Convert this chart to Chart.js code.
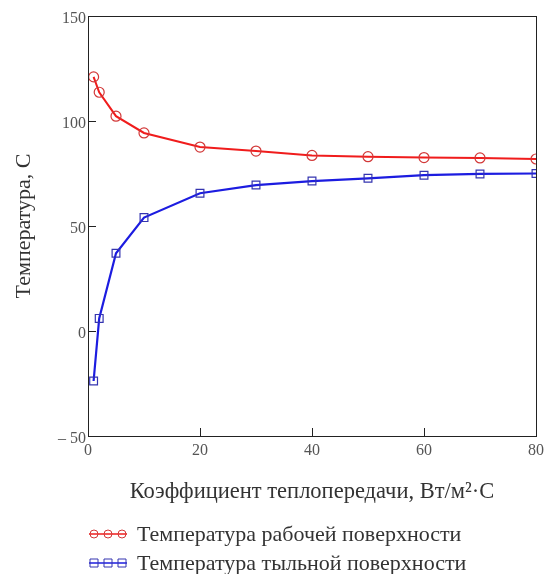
<!DOCTYPE html>
<html>
<head>
<meta charset="utf-8">
<script src="https://cdn.jsdelivr.net/npm/chart.js@4/dist/chart.umd.min.js"></script>
<style>
    body { margin: 0; background: #fff; }
    #wrap { width: 551px; height: 574px; position: relative; }
</style>
</head>
<body>
<div id="wrap"><canvas id="chart"></canvas></div>
<script>
// Data
const coeffs = [1, 2, 5, 10, 20, 30, 40, 50, 60, 70, 80];
const workSurface = [121, 113.7, 102.3, 94.3, 87.6, 85.7, 83.6, 83.0, 82.6, 82.4, 81.9];
const backSurface = [-23.8, 6, 37, 54, 65.6, 69.5, 71.4, 72.7, 74.2, 74.8, 75.0];
const yTicks = [-50, 0, 50, 100, 150];
const xTicks = [0, 20, 40, 60, 80];

const labelWork = 'Температура рабочей поверхности';
const labelBack = 'Температура тыльной поверхности';
const xTitle = 'Коэффициент теплопередачи, Вт/м²·С';
const yTitle = 'Температура, С';

const SERIF = '"Liberation Serif", "DejaVu Serif", serif';

function toPoints(ys) {
    return coeffs.map((x, i) => ({ x: x, y: ys[i] }));
}

// Frame, inside ticks and Mathcad-like legend
const framePlugin = {
    id: 'frame',
    afterDatasetsDraw(chart) {
        const { ctx, chartArea: a, scales } = chart;
        ctx.save();
        ctx.strokeStyle = '#222';
        ctx.lineWidth = 1;
        ctx.strokeRect(a.left + 0.5, a.top + 0.5, a.right - a.left, a.bottom - a.top);
        ctx.beginPath();
        yTicks.slice(1, -1).forEach(v => {
            const y = Math.round(scales.y.getPixelForValue(v)) + 0.5;
            ctx.moveTo(a.left, y);
            ctx.lineTo(a.left + 8, y);
        });
        xTicks.slice(1, -1).forEach(v => {
            const x = Math.round(scales.x.getPixelForValue(v)) + 0.5;
            ctx.moveTo(x, a.bottom);
            ctx.lineTo(x, a.bottom - 8);
        });
        ctx.stroke();
        ctx.restore();
    },
    afterDraw(chart) {
        const { ctx } = chart;
        const rows = [534, 563];
        ctx.save();
        chart.data.datasets.forEach((ds, i) => {
            const y = rows[i];
            ctx.strokeStyle = ds.borderColor;
            ctx.lineWidth = 1.5;
            ctx.beginPath();
            ctx.moveTo(89, y);
            ctx.lineTo(127, y);
            ctx.stroke();
            ctx.strokeStyle = ds.pointBorderColor;
            ctx.lineWidth = 1;
            [94, 108, 122].forEach(x => {
                ctx.beginPath();
                if (ds.pointStyle === 'rect') ctx.rect(x - 4, y - 4, 8, 8);
                else ctx.arc(x, y, 4, 0, Math.PI * 2);
                ctx.stroke();
            });
            ctx.fillStyle = '#333';
            ctx.font = '22px ' + SERIF;
            ctx.textBaseline = 'middle';
            ctx.textAlign = 'left';
            ctx.fillText(ds.label, 137, y + 1);
        });
        ctx.restore();
    }
};

new Chart(document.getElementById('chart'), {
    type: 'line',
    data: {
        datasets: [
            {
                label: labelWork,
                data: toPoints(workSurface),
                borderColor: '#f01c1c',
                borderWidth: 2,
                pointStyle: 'circle',
                pointRadius: 5,
                pointBorderColor: '#d23838',
                pointBorderWidth: 1.2,
                pointBackgroundColor: 'rgba(0,0,0,0)',
                tension: 0,
                clip: 0
            },
            {
                label: labelBack,
                data: toPoints(backSurface),
                borderColor: '#1c1ce0',
                borderWidth: 2.2,
                pointStyle: 'rect',
                pointRadius: 5.5,
                pointBorderColor: '#3434b0',
                pointBorderWidth: 1.2,
                pointBackgroundColor: 'rgba(0,0,0,0)',
                tension: 0,
                clip: 0
            }
        ]
    },
    options: {
        responsive: true,
        maintainAspectRatio: false,
        animation: false,
        layout: { padding: { left: 0, top: 16, right: 15, bottom: 0 } },
        plugins: {
            legend: { display: false },
            tooltip: { enabled: false }
        },
        scales: {
            x: {
                type: 'linear',
                min: 0, max: 80,
                afterFit: s => { s.height = 138; },
                afterBuildTicks: s => { s.ticks = xTicks.map(v => ({ value: v })); },
                grid: { display: false, drawTicks: false },
                border: { display: false },
                ticks: { color: '#555', padding: 5, font: { family: SERIF, size: 16 }, maxRotation: 0 },
                title: {
                    display: true, text: xTitle, color: '#333',
                    font: { family: SERIF, size: 22.5 },
                    padding: { top: 0, bottom: 68 }
                }
            },
            y: {
                min: -50, max: 150,
                afterFit: s => { s.width = 88; },
                afterBuildTicks: s => { s.ticks = yTicks.map(v => ({ value: v })); },
                grid: { display: false, drawTicks: false },
                border: { display: false },
                ticks: {
                    color: '#555', padding: 2, labelOffset: 3, font: { family: SERIF, size: 16 },
                    callback: v => v < 0 ? '– ' + Math.abs(v) : '' + v
                },
                title: {
                    display: true, text: yTitle, color: '#333',
                    font: { family: SERIF, size: 22 },
                    padding: { top: 11, bottom: 0 }
                }
            }
        }
    },
    plugins: [framePlugin]
});
</script>
</body>
</html>
